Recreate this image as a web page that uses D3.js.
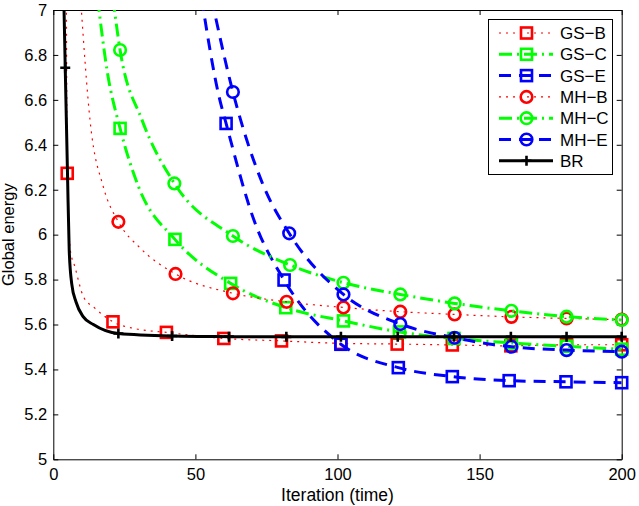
<!DOCTYPE html>
<html>
<head>
<meta charset="utf-8">
<script src="https://cdn.jsdelivr.net/npm/d3@7"></script>
<style>
  body { margin: 0; background: #fff; }
  text { font-family: "Liberation Sans", Arial, sans-serif; }
</style>
</head>
<body>
<script>
// each point is [iteration, energy, hasMarker]
const gsB = [[4.6,7.05,0],[4.9,6.273,1],[6.0,5.93,0],[7.6,5.857,0],[10.6,5.724,0],[14.7,5.672,0],[21,5.612,1],[29.4,5.58,0],[39.8,5.565,1],[60,5.538,1],[80.3,5.527,1],[101.2,5.516,1],[121,5.513,1],[140.4,5.509,1],[161,5.505,1],[180.6,5.51,1],[200,5.51,1]];
const gsC = [[15.6,7.05,0],[19,6.725,0],[23.5,6.473,1],[30,6.213,0],[42.8,5.979,1],[62.4,5.783,1],[81.8,5.675,1],[102.1,5.616,1],[121.8,5.567,1],[141,5.538,1],[161.2,5.518,1],[180.6,5.503,1],[200,5.49,1]];
const gsE = [[52.2,7.05,0],[58.2,6.621,0],[60.8,6.495,1],[70.6,6.065,0],[81.2,5.798,1],[101.2,5.512,1],[121.4,5.408,1],[140.4,5.368,1],[160.4,5.35,1],[180.4,5.345,1],[200,5.341,1]];
const mhB = [[9.6,7.05,0],[13,6.5,0],[17.6,6.213,0],[22.9,6.057,1],[30.6,5.94,0],[43,5.825,1],[63.2,5.739,1],[82.1,5.701,1],[102.1,5.676,1],[122.1,5.657,1],[141.2,5.645,1],[161.2,5.634,1],[180.6,5.627,1],[200,5.622,1]];
const mhC = [[21.0,7.05,0],[23.5,6.822,1],[31.2,6.511,0],[42.6,6.228,1],[63.2,5.994,1],[83.3,5.865,1],[102.1,5.786,1],[122.1,5.734,1],[141.2,5.694,1],[161.2,5.661,1],[180.6,5.635,1],[200,5.62,1]];
const mhE = [[55.7,7.05,0],[63.2,6.635,1],[74.1,6.213,0],[83,6.006,1],[102.1,5.734,1],[122.1,5.602,1],[141.2,5.541,1],[161.2,5.501,1],[180.6,5.486,1],[200,5.479,1]];
const br = [[3.7,7.05,0],[4.2,6.743,1],[5.0,6.27,0],[5.6,5.93,0],[6.5,5.78,0],[8.0,5.70,0],[10.5,5.635,0],[14.1,5.600,0],[22.9,5.56,1],[41.8,5.549,1],[61.8,5.546,1],[82,5.545,1],[101.2,5.545,1],[121.2,5.545,1],[141,5.545,1],[161,5.545,1],[180.6,5.545,1],[200,5.545,1]];

const seriesNames = ['GS−B', 'GS−C', 'GS−E', 'MH−B', 'MH−C', 'MH−E', 'BR'];
const xTicks = [0, 50, 100, 150, 200];
const yTicks = [5, 5.2, 5.4, 5.6, 5.8, 6, 6.2, 6.4, 6.6, 6.8, 7];

const W = 639, H = 506;
const m = {left: 53.3, right: 17.3, top: 10, bottom: 46.7};

const styles = [
  {data: gsB, color: '#ff0000', width: 1.2, dash: '2,5', marker: 'square'},
  {data: gsC, color: '#00ff00', width: 3, dash: '13,5,2,5', marker: 'square'},
  {data: gsE, color: '#0000ff', width: 3, dash: '12,8', marker: 'square'},
  {data: mhB, color: '#ff0000', width: 1.2, dash: '2,5', marker: 'circle'},
  {data: mhC, color: '#00ff00', width: 3, dash: '13,5,2,5', marker: 'circle'},
  {data: mhE, color: '#0000ff', width: 3, dash: '12,8', marker: 'circle'},
  {data: br, color: '#000000', width: 3, dash: null, marker: 'plus'}
];

const svg = d3.select('body').append('svg').attr('width', W).attr('height', H);

const x = d3.scaleLinear().domain([0, 200]).range([m.left, W - m.right]);
const y = d3.scaleLinear().domain([5, 7]).range([H - m.bottom, m.top]);

svg.append('clipPath').attr('id', 'clip')
  .append('rect')
  .attr('x', m.left).attr('y', m.top)
  .attr('width', W - m.left - m.right).attr('height', H - m.top - m.bottom);

const fmt = d => d3.format('~g')(d);

// axes, MATLAB style: ticks inward on all four sides
const axBottom = svg.append('g').attr('transform', `translate(0,${H - m.bottom})`)
  .call(d3.axisBottom(x).tickValues(xTicks).tickFormat(fmt).tickSizeInner(-5).tickSizeOuter(0).tickPadding(9));
const axLeft = svg.append('g').attr('transform', `translate(${m.left},0)`)
  .call(d3.axisLeft(y).tickValues(yTicks).tickFormat(fmt).tickSizeInner(-5).tickSizeOuter(0).tickPadding(6));
const axTop = svg.append('g').attr('transform', `translate(0,${m.top})`)
  .call(d3.axisTop(x).tickValues(xTicks).tickFormat('').tickSizeInner(-5).tickSizeOuter(0));
const axRight = svg.append('g').attr('transform', `translate(${W - m.right},0)`)
  .call(d3.axisRight(y).tickValues(yTicks).tickFormat('').tickSizeInner(-5).tickSizeOuter(0));

[axBottom, axLeft, axTop, axRight].forEach(g => {
  g.select('.domain').attr('stroke', '#000').attr('stroke-width', 1);
  g.selectAll('.tick line').attr('stroke', '#000');
  g.selectAll('text').attr('fill', '#000').style('font-size', '16.5px');
});

svg.append('text')
  .attr('x', (m.left + W - m.right) / 2).attr('y', 501)
  .attr('text-anchor', 'middle').style('font-size', '17.5px')
  .text('Iteration (time)');

svg.append('text')
  .attr('transform', `translate(14,${(m.top + H - m.bottom) / 2}) rotate(-90)`)
  .attr('text-anchor', 'middle').style('font-size', '16.5px')
  .text('Global energy');

function drawMarker(g, type, cx, cy, color) {
  if (type === 'square') {
    g.append('rect').attr('x', cx - 5.5).attr('y', cy - 5.5).attr('width', 11).attr('height', 11)
      .attr('fill', 'none').attr('stroke', color).attr('stroke-width', 2.6);
  } else if (type === 'circle') {
    g.append('circle').attr('cx', cx).attr('cy', cy).attr('r', 5.8)
      .attr('fill', 'none').attr('stroke', color).attr('stroke-width', 2.6);
  } else {
    g.append('path').attr('d', `M${cx - 5},${cy}H${cx + 5}M${cx},${cy - 5}V${cy + 5}`)
      .attr('stroke', color).attr('stroke-width', 2.6);
  }
}

const line = d3.line().x(d => x(d[0])).y(d => y(d[1])).curve(d3.curveMonotoneX);

styles.forEach(s => {
  const g = svg.append('g');
  g.append('path')
    .attr('d', line(s.data))
    .attr('clip-path', 'url(#clip)')
    .attr('fill', 'none')
    .attr('stroke', s.color)
    .attr('stroke-width', s.width)
    .attr('stroke-dasharray', s.dash);
  s.data.filter(d => d[2]).forEach(d => drawMarker(g, s.marker, x(d[0]), y(d[1]), s.color));
});

// legend
const lg = svg.append('g');
lg.append('rect').attr('x', 488.5).attr('y', 19.5).attr('width', 124).attr('height', 155)
  .attr('fill', '#fff').attr('stroke', '#000').attr('stroke-width', 1);
styles.forEach((s, i) => {
  const ly = 33 + i * 21.3;
  lg.append('line').attr('x1', 499).attr('x2', 553).attr('y1', ly).attr('y2', ly)
    .attr('stroke', s.color).attr('stroke-width', s.width).attr('stroke-dasharray', s.dash);
  drawMarker(lg, s.marker, 526.5, ly, s.color);
  lg.append('text').attr('x', 560).attr('y', ly).attr('dy', '0.36em')
    .style('font-size', '17px').text(seriesNames[i]);
});
</script>
</body>
</html>
